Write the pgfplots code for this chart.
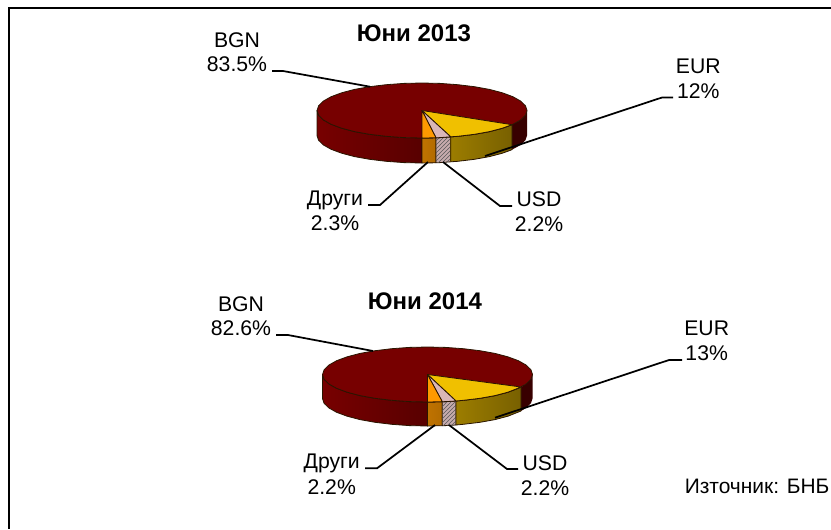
\documentclass[border=0pt]{standalone}
\usepackage{fontspec}
\setmainfont{Liberation Sans}
\usepackage{pgfplots}
\pgfplotsset{compat=1.18}
\usetikzlibrary{patterns}

\definecolor{bgn}{HTML}{770000}
\definecolor{bgnside}{HTML}{580000}
\definecolor{bgnback}{HTML}{380000}
\definecolor{eur}{HTML}{F0C000}
\definecolor{usd}{HTML}{D9B6B8}
\definecolor{other}{HTML}{FF9900}
\definecolor{edge}{HTML}{2A1500}

\pgfplotsset{
  face/.style={draw=edge,line width=0.6pt,line join=round},
  leader/.style={black,line width=1.3pt,line join=round},
}
\tikzset{
  lbl/.style={anchor=base,inner sep=0pt,font=\fontsize{15.9}{18}\selectfont},
  ttl/.style={anchor=base,inner sep=0pt,font=\fontsize{18}{20}\selectfont\bfseries},
}

\begin{document}
\begin{tikzpicture}
\useasboundingbox (0,0) rectangle (623.25pt,396.75pt);
\begin{axis}[
  at={(0,0)},anchor=south west,
  scale only axis,width=623.25pt,height=396.75pt,
  xmin=0,xmax=831,ymin=0,ymax=529,y dir=reverse,
  hide axis,clip=false,
]
% frame, only top and left are in the picture
\addplot[black,line width=1.7pt] coordinates {(831,7.8) (9,7.8) (9,529)};

% ---- Juni 2013
\addplot[draw=none,left color=bgnback,right color=bgnback] coordinates {(527,110.5) (525.4,115.3) (520.7,119.9) (512,124.7) (512,149.7) (520.7,144.9) (525.4,140.3) (527,135.5)} -- cycle;
\addplot[face,left color=bgn,right color=bgnside] coordinates {(422,138) (403.8,137.6) (386.1,136.3) (369.5,134.3) (354.5,131.6) (341.6,128.2) (331.1,124.3) (323.3,119.9) (318.6,115.3) (317,110.5) (317,135.5) (318.6,140.3) (323.3,144.9) (331.1,149.3) (341.6,153.2) (354.5,156.6) (369.5,159.3) (386.1,161.3) (403.8,162.6) (422,163)} -- cycle;
\addplot[face,left color=other!75!black,right color=other!70!black] coordinates {(422,138) (436,137.8) (436,162.8) (422,163)} -- cycle;
\addplot[face,fill=usd!80!gray] coordinates {(436,137.8) (440.2,137.6) (450.7,136.8) (450.7,161.8) (440.2,162.6) (436,162.8)} -- cycle;
\addplot[draw=none,pattern=north east lines,pattern color=black!65] coordinates {(436,137.8) (440.2,137.6) (450.7,136.8) (450.7,161.8) (440.2,162.6) (436,162.8)} -- cycle;
\addplot[face,left color=eur!65!black,middle color=eur!42!black,right color=eur!50!black] coordinates {(512,124.7) (502.4,128.2) (489.5,131.6) (474.5,134.3) (457.9,136.3) (450.7,136.8) (450.7,161.8) (457.9,161.3) (474.5,159.3) (489.5,156.6) (502.4,153.2) (512,149.7)} -- cycle;
\addplot[face,fill=bgn] coordinates {(527,110.5) (525.4,115.3) (520.7,119.9) (512.9,124.3) (502.4,128.2) (489.5,131.6) (474.5,134.3) (457.9,136.3) (440.2,137.6) (422,138) (403.8,137.6) (386.1,136.3) (369.5,134.3) (354.5,131.6) (341.6,128.2) (331.1,124.3) (323.3,119.9) (318.6,115.3) (317,110.5) (318.6,105.7) (323.3,101.1) (331.1,96.7) (341.6,92.8) (354.5,89.4) (369.5,86.7) (386.1,84.7) (403.8,83.4) (422,83) (440.2,83.4) (457.9,84.7) (474.5,86.7) (489.5,89.4) (502.4,92.8) (512.9,96.7) (520.7,101.1) (525.4,105.7)} -- cycle;
\addplot[face,fill=eur] coordinates {(422,110.5) (512,124.7) (502.4,128.2) (489.5,131.6) (474.5,134.3) (457.9,136.3) (450.7,136.8)} -- cycle;
\addplot[face,fill=usd] coordinates {(422,110.5) (450.7,136.8) (440.2,137.6) (436,137.8)} -- cycle;
\addplot[face,fill=other] coordinates {(422,110.5) (436,137.8) (422,138)} -- cycle;

\addplot[leader] coordinates {(272,71) (283,71) (370,86.7)};
\addplot[leader] coordinates {(673,97.5) (662,97.5) (485,156)};
\addplot[leader] coordinates {(368,205) (380,205) (428,162)};
\addplot[leader] coordinates {(512,206) (500,206) (443,162)};

\node[ttl] at (axis cs:414,41) {Юни 2013};
\node[lbl] at (axis cs:237,47) {BGN};
\node[lbl] at (axis cs:237,71) {83.5\%};
\node[lbl] at (axis cs:698.3,73.3) {EUR};
\node[lbl] at (axis cs:698.3,98.3) {12\%};
\node[lbl] at (axis cs:335,205) {Други};
\node[lbl] at (axis cs:335,230) {2.3\%};
\node[lbl] at (axis cs:539,206.7) {USD};
\node[lbl] at (axis cs:539,231.7) {2.2\%};

% ---- Juni 2014
\addplot[draw=none,left color=bgnback,right color=bgnback] coordinates {(532.5,374.5) (530.9,379.3) (526.2,383.9) (521,387) (521,411) (526.2,407.9) (530.9,403.3) (532.5,398.5)} -- cycle;
\addplot[face,left color=bgn,right color=bgnside] coordinates {(427.5,402) (409.3,401.6) (391.6,400.3) (375,398.3) (360,395.6) (347.1,392.2) (336.6,388.3) (328.8,383.9) (324.1,379.3) (322.5,374.5) (322.5,398.5) (324.1,403.3) (328.8,407.9) (336.6,412.3) (347.1,416.2) (360,419.6) (375,422.3) (391.6,424.3) (409.3,425.6) (427.5,426)} -- cycle;
\addplot[face,left color=other!75!black,right color=other!70!black] coordinates {(427.5,402) (442.3,401.7) (442.3,425.7) (427.5,426)} -- cycle;
\addplot[face,fill=usd!80!gray] coordinates {(442.3,401.7) (445.7,401.6) (456,401) (456,425) (445.7,425.6) (442.3,425.7)} -- cycle;
\addplot[draw=none,pattern=north east lines,pattern color=black!65] coordinates {(442.3,401.7) (445.7,401.6) (456,401) (456,425) (445.7,425.6) (442.3,425.7)} -- cycle;
\addplot[face,left color=eur!65!black,middle color=eur!42!black,right color=eur!50!black] coordinates {(521,387) (507.9,392.2) (495,395.6) (480,398.3) (463.4,400.3) (456,401) (456,425) (463.4,424.3) (480,422.3) (495,419.6) (507.9,416.2) (521,411)} -- cycle;
\addplot[face,fill=bgn] coordinates {(532.5,374.5) (530.9,379.3) (526.2,383.9) (518.4,388.3) (507.9,392.2) (495,395.6) (480,398.3) (463.4,400.3) (445.7,401.6) (427.5,402) (409.3,401.6) (391.6,400.3) (375,398.3) (360,395.6) (347.1,392.2) (336.6,388.3) (328.8,383.9) (324.1,379.3) (322.5,374.5) (324.1,369.7) (328.8,365.1) (336.6,360.7) (347.1,356.8) (360,353.4) (375,350.7) (391.6,348.7) (409.3,347.4) (427.5,347) (445.7,347.4) (463.4,348.7) (480,350.7) (495,353.4) (507.9,356.8) (518.4,360.7) (526.2,365.1) (530.9,369.7)} -- cycle;
\addplot[face,fill=eur] coordinates {(427.5,374.5) (521,387) (507.9,392.2) (495,395.6) (480,398.3) (463.4,400.3) (456,401)} -- cycle;
\addplot[face,fill=usd] coordinates {(427.5,374.5) (456,401) (445.7,401.6) (442.3,401.7)} -- cycle;
\addplot[face,fill=other] coordinates {(427.5,374.5) (442.3,401.7) (427.5,402)} -- cycle;

\addplot[leader] coordinates {(276,335) (288,335) (373,351)};
\addplot[leader] coordinates {(682,360) (669,360) (495,417.7)};
\addplot[leader] coordinates {(365,468.3) (377,468.3) (435,425)};
\addplot[leader] coordinates {(518,469) (507,469) (449,425)};

\node[ttl] at (axis cs:425,309) {Юни 2014};
\node[lbl] at (axis cs:241,311) {BGN};
\node[lbl] at (axis cs:241,335) {82.6\%};
\node[lbl] at (axis cs:706.7,335.7) {EUR};
\node[lbl] at (axis cs:706.7,360.7) {13\%};
\node[lbl] at (axis cs:331.7,468.3) {Други};
\node[lbl] at (axis cs:331.7,494) {2.2\%};
\node[lbl] at (axis cs:545,470) {USD};
\node[lbl] at (axis cs:545,495) {2.2\%};

\node[lbl,anchor=base west,font=\fontsize{15.7}{18}\selectfont] at (axis cs:684.5,493.3) {Източник: БНБ};
\end{axis}
\end{tikzpicture}
\end{document}
